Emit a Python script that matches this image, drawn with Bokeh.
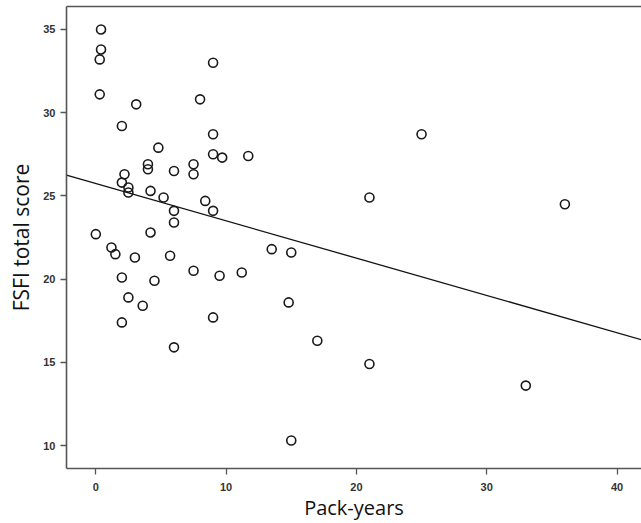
from bokeh.plotting import figure
from bokeh.models import Range1d, FixedTicker, LinearAxis, ColumnDataSource
from bokeh.embed import file_html
from bokeh.resources import INLINE

# Pack-years (x) and FSFI total score (y)
pack_years = [
    0.4, 0.4, 0.3, 0.3, 3.1, 2.0, 8.0, 9.0,
    9.0, 4.8, 9.0, 9.7, 11.7, 4.0, 4.0, 6.0, 7.5, 7.5, 2.2, 2.0, 2.5, 2.5,
    4.2, 5.2, 8.4, 6.0, 9.0, 6.0, 0.0, 4.2, 1.2, 1.5, 3.0, 5.7, 7.5, 9.5,
    11.2, 2.0, 4.5, 2.5, 3.6, 2.0, 9.0, 6.0,
    25.0, 21.0, 36.0, 13.5, 15.0, 14.8, 17.0, 21.0, 33.0, 15.0,
]
fsfi_score = [
    35.0, 33.8, 33.2, 31.1, 30.5, 29.2, 30.8, 33.0,
    28.7, 27.9, 27.5, 27.3, 27.4, 26.9, 26.6, 26.5, 26.9, 26.3, 26.3, 25.8, 25.5, 25.2,
    25.3, 24.9, 24.7, 24.1, 24.1, 23.4, 22.7, 22.8, 21.9, 21.5, 21.3, 21.4, 20.5, 20.2,
    20.4, 20.1, 19.9, 18.9, 18.4, 17.4, 17.7, 15.9,
    28.7, 24.9, 24.5, 21.8, 21.6, 18.6, 16.3, 14.9, 13.6, 10.3,
]
x_ticks = [0, 10, 20, 30, 40]
y_ticks = [10, 15, 20, 25, 30, 35]
fit_intercept = 25.74
fit_slope = -0.224

x_start, x_end = -2.25, 41.88
y_start, y_end = 8.62, 36.38

p = figure(width=641, height=523, output_backend="svg", toolbar_location=None,
           x_range=Range1d(x_start, x_end), y_range=Range1d(y_start, y_end),
           min_border_left=66, min_border_right=0, min_border_top=6,
           min_border_bottom=54)
p.grid.visible = False
p.outline_line_color = None
p.background_fill_color = "white"
p.border_fill_color = "white"

fit_x = [x_start, x_end]
fit_y = [fit_intercept + fit_slope * v for v in fit_x]
p.line(fit_x, fit_y, line_color="#111111", line_width=1.3)

src = ColumnDataSource(dict(x=pack_years, y=fsfi_score))
p.scatter("x", "y", source=src, marker="circle", size=9, fill_color=None,
          line_color="#1a1a1a", line_width=1.6)

tick_font = "Liberation Sans"
for ax, ticks in ((p.xaxis[0], x_ticks), (p.yaxis[0], y_ticks)):
    ax.ticker = FixedTicker(ticks=ticks)
    ax.minor_tick_line_color = None
    ax.major_tick_out = 6
    ax.major_tick_in = 0
    ax.axis_line_color = "#555555"
    ax.axis_line_width = 1.6
    ax.major_tick_line_color = "#555555"
    ax.major_tick_line_width = 1.3
    ax.major_label_text_font = tick_font
    ax.major_label_text_font_size = "11px"
    ax.major_label_text_font_style = "bold"
    ax.major_label_text_color = "#333333"
    ax.axis_label_text_font = "Open Sans"
    ax.axis_label_text_font_style = "normal"
    ax.axis_label_text_color = "#111111"

p.xaxis[0].axis_label = "Pack-years"
p.yaxis[0].axis_label = "FSFI total score"
p.xaxis[0].axis_label_text_font_size = "20px"
p.yaxis[0].axis_label_text_font_size = "21px"
p.xaxis[0].major_label_standoff = 8
p.yaxis[0].major_label_standoff = 5
p.xaxis[0].axis_label_standoff = 0
p.yaxis[0].axis_label_standoff = 5

top = LinearAxis(ticker=FixedTicker(ticks=[]), axis_line_color="#555555",
                 axis_line_width=1.6, major_tick_line_color=None,
                 minor_tick_line_color=None, major_tick_out=0, major_tick_in=0,
                 major_label_standoff=0, axis_label_standoff=0,
                 major_label_text_font_size="0px")
p.add_layout(top, "above")

open("out.html", "w").write(file_html(p, INLINE))
